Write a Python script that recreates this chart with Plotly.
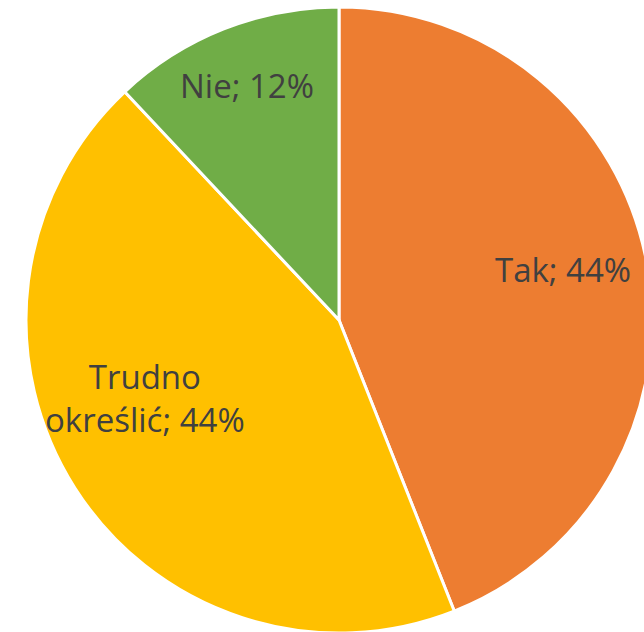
import math
import plotly.graph_objects as go

# Data
labels = ["Tak", "Trudno określić", "Nie"]
label_text = ["Tak; 44%", "Trudno<br>określić; 44%", "Nie; 12%"]
values = [44, 44, 12]
colors = ["#ED7D31", "#FFC000", "#70AD47"]

# Label placement (angle clockwise from 12 o'clock, fraction of radius)
label_angle = [77.2, 248.1, 338.6]
label_radius = [0.734, 0.668, 0.806]

W, H = 652, 640
left = 26
top_px, bottom_px = 7, 633
dom_x = [left / W, 1.0]
dom_y = [(H - bottom_px) / H, (H - top_px) / H]

fig = go.Figure(go.Pie(
    labels=labels,
    values=values,
    sort=False,
    direction="clockwise",
    rotation=0,
    marker=dict(colors=colors, line=dict(color="white", width=3)),
    textinfo="none",
    hoverinfo="label+percent",
    domain=dict(x=dom_x, y=dom_y),
    showlegend=False,
))

# pie geometry in pixels
dw = (dom_x[1] - dom_x[0]) * W
dh = (dom_y[1] - dom_y[0]) * H
R = min(dw, dh) / 2
cx = (dom_x[0] + dom_x[1]) / 2 * W
cy = (1 - (dom_y[0] + dom_y[1]) / 2) * H

for txt, ang, rf in zip(label_text, label_angle, label_radius):
    a = math.radians(ang)
    px = cx + rf * R * math.sin(a)
    py = cy - rf * R * math.cos(a)
    fig.add_annotation(
        x=px / W, y=1 - py / H, xref="paper", yref="paper",
        text=txt, showarrow=False, xanchor="center", yanchor="middle",
        font=dict(family="Open Sans", size=33, color="#404040"),
        align="center",
    )

fig.update_layout(
    width=W, height=H, autosize=False,
    margin=dict(l=0, r=0, t=0, b=0, pad=0),
    paper_bgcolor="white", plot_bgcolor="white",
)

fig.write_html(
    "out.html",
    config={"displayModeBar": False},
    post_script="document.body.style.margin='0';document.body.style.overflow='hidden';document.documentElement.style.overflow='hidden';",
)
